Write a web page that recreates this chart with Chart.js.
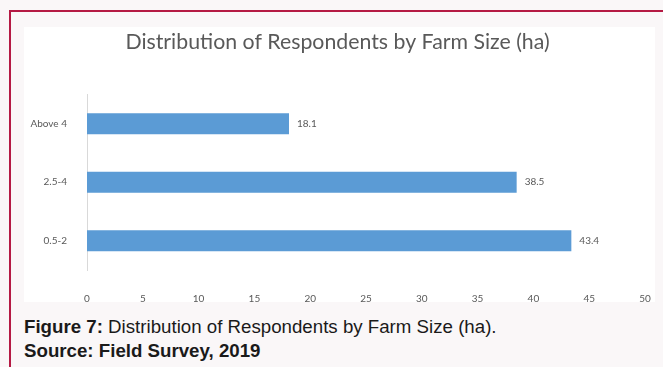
<!DOCTYPE html>
<html lang="en">
<head>
  <meta charset="UTF-8">
  <title>Distribution of Respondents by Farm Size</title>
  <script src="https://cdn.jsdelivr.net/npm/chart.js"></script>
  <style>
    html, body { margin: 0; padding: 0; }
    body { width: 663px; height: 367px; background: #faf7f8; position: relative; overflow: hidden; }
    #frame { position: absolute; left: 9px; top: 10px; right: -2px; bottom: -2px;
             border-top: 2px solid #b51a44; border-left: 2px solid #b51a44; }
    #box { position: absolute; left: 24px; top: 27px; width: 631px; height: 275px; background: #fff; }
    #caption { position: absolute; left: 24px; top: 315px; font-family: "Liberation Sans", Arial, sans-serif;
               font-size: 18.7px; line-height: 24px; color: #1a1a1a; white-space: nowrap; }
  </style>
</head>
<body>
  <div id="frame"></div>
  <div id="box"><canvas id="farmChart" width="631" height="275"></canvas></div>
  <div id="caption"><b>Figure 7:</b> Distribution of Respondents by Farm Size (ha).<br><b>Source: Field Survey, 2019</b></div>
  <script>
    const categories = ['Above 4', '2.5-4', '0.5-2'];
    const percentages = [18.1, 38.5, 43.4];
    const xTicks = [0, 5, 10, 15, 20, 25, 30, 35, 40, 45, 50];

    // writes the value just to the right of each bar
    const valueLabels = {
      id: 'valueLabels',
      afterDatasetsDraw(chart) {
        const ctx = chart.ctx;
        ctx.save();
        ctx.font = '10px Lato, "Open Sans", sans-serif';
        ctx.fillStyle = '#595959';
        ctx.textBaseline = 'middle';
        chart.getDatasetMeta(0).data.forEach((bar, i) => {
          ctx.fillText(percentages[i].toFixed(1), bar.x + 8, bar.y);
        });
        ctx.restore();
      }
    };

    new Chart(document.getElementById('farmChart'), {
      type: 'bar',
      data: {
        labels: categories,
        datasets: [{
          data: percentages,
          backgroundColor: '#5b9bd5',
          categoryPercentage: 1,
          barPercentage: 0.36
        }]
      },
      options: {
        indexAxis: 'y',
        responsive: false,
        animation: false,
        layout: { padding: { left: 6, right: 10, top: 0, bottom: 0 } },
        plugins: {
          legend: { display: false },
          tooltip: { enabled: false },
          title: {
            display: true,
            text: 'Distribution of Respondents by Farm Size (ha)',
            color: '#595959',
            font: { family: 'Lato, "Open Sans", sans-serif', size: 21.3, weight: 'normal' },
            padding: { top: 2, bottom: 40 }
          }
        },
        scales: {
          x: {
            min: 0,
            max: 50,
            afterBuildTicks(scale) { scale.ticks = xTicks.map(v => ({ value: v })); },
            grid: { display: false },
            border: { display: false },
            ticks: { color: '#595959', padding: 15, font: { family: 'Lato, "Open Sans", sans-serif', size: 10 } },
            afterFit(scale) {
              scale.height = 32;
              scale.paddingLeft = 0;
              scale.paddingRight = 0;
            }
          },
          y: {
            grid: { display: false },
            border: { display: true, color: '#d9d9d9' },
            ticks: { color: '#595959', padding: 12, font: { family: 'Lato, "Open Sans", sans-serif', size: 10 } },
            afterFit(scale) { scale.width = 57; }
          }
        }
      },
      plugins: [valueLabels]
    });
  </script>
</body>
</html>
